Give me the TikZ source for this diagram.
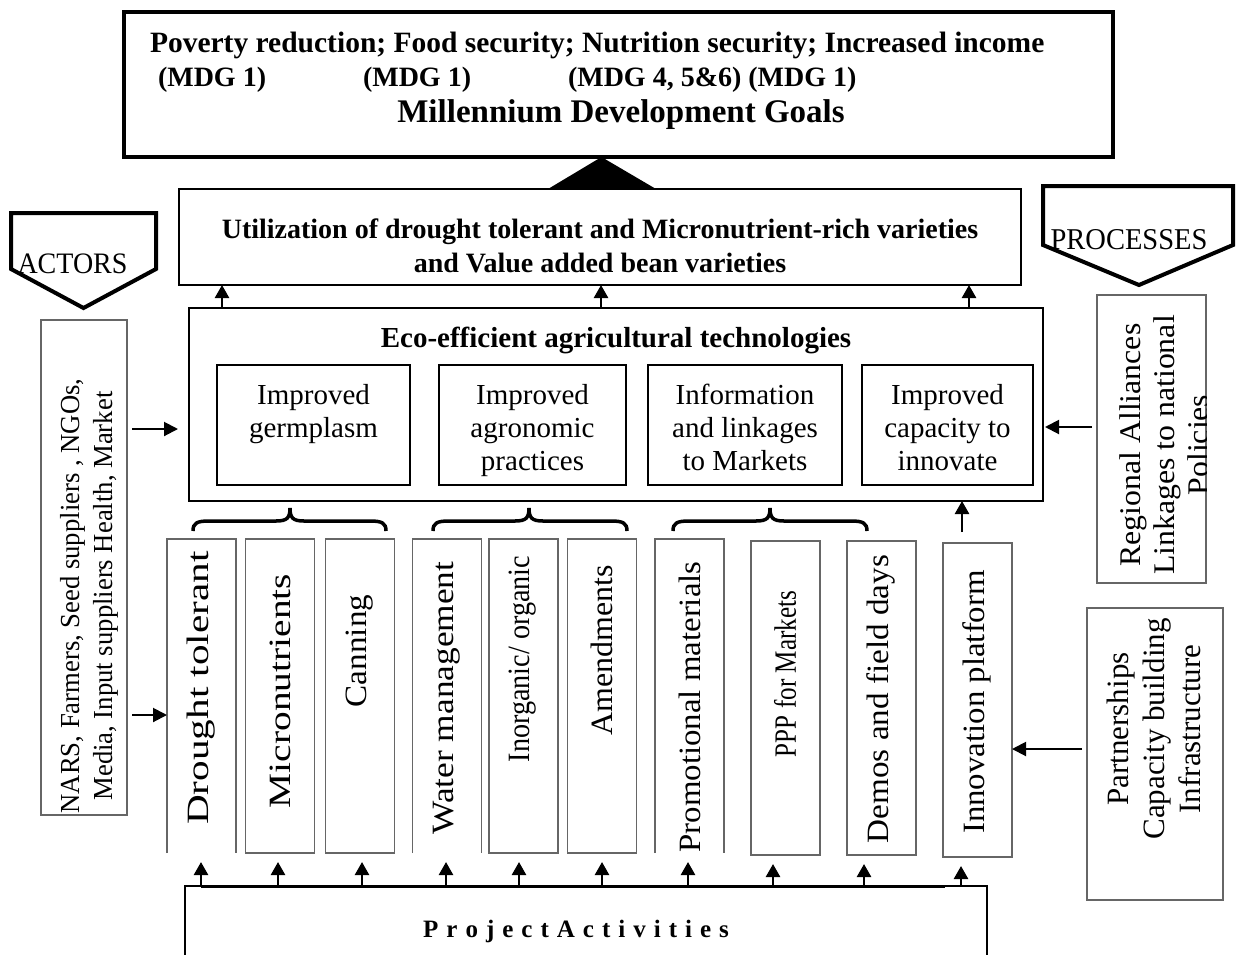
\documentclass[tikz,border=0pt]{standalone}
\usepackage{fontspec}
\setmainfont{Liberation Serif}
\usetikzlibrary{arrows.meta,calc}
\newcommand{\drawbrace}[3]{\draw[bracestyle] (#1,531) .. controls (#1,523) and ({#1+4},521) .. ({#1+16},521) -- ({#2-14},521) .. controls ({#2-3},521) and (#2,518) .. (#2,508) .. controls (#2,518) and ({#2+3},521) .. ({#2+14},521) -- ({#3-16},521) .. controls ({#3-4},521) and (#3,523) .. (#3,531);}
\newcommand{\lsp}{\hspace{8pt}}
\begin{document}
\begin{tikzpicture}[x=1pt,y=-1pt,
  every node/.style={inner sep=0pt,outer sep=0pt},
  box/.style={draw,line width=2pt},
  gbox/.style={draw=black!60,line width=1.6pt},
  gline/.style={draw=black!60,line width=1.6pt},
  arr/.style={line width=2.5pt,-{Triangle[width=14pt,length=13pt]}},
  arrs/.style={line width=2pt,-{Triangle[width=14pt,length=14pt]}},
  bt/.style={font=\fontsize{29}{34}\selectfont\bfseries},
  rt/.style={font=\fontsize{29}{33}\selectfont,align=center},
  vt/.style={font=\fontsize{31}{34}\selectfont,rotate=90,align=center},
  vbox/.style={minimum width=69pt,minimum height=314pt},
  bracestyle/.style={line width=3.5pt},
  pent/.style={line width=4pt,line join=miter},
]
\useasboundingbox (0,0) rectangle (1237,954);

% ---------- goals box ----------
\node[draw,line width=4pt,minimum width=989pt,minimum height=145pt] (goal) at (618.5,84.5) {};
\node[font=\fontsize{29.5}{34}\selectfont\bfseries,anchor=base west] (g1) at (150,52) {Poverty reduction; Food security; Nutrition security; Increased income};
\node[font=\fontsize{28}{34}\selectfont\bfseries,anchor=base west] (g2a) at (158,86) {(MDG 1)};
\node[font=\fontsize{28}{34}\selectfont\bfseries,anchor=base west] (g2b) at (363,86) {(MDG 1)};
\node[font=\fontsize{28}{34}\selectfont\bfseries,anchor=base west] (g2c) at (568,86) {(MDG 4, 5\&6) (MDG 1)};
\node[font=\fontsize{33}{36}\selectfont\bfseries,anchor=base] (g3) at (621,122) {Millennium Development Goals};

% ---------- utilization ----------
\node[box,minimum width=842pt,minimum height=96pt] (util) at (600,237) {};
\node[font=\fontsize{28}{30}\selectfont\bfseries,anchor=base] (u1) at (600,238) {Utilization of drought tolerant and Micronutrient-rich varieties};
\node[font=\fontsize{28}{30}\selectfont\bfseries,anchor=base] (u2) at (600,272) {and Value added bean varieties};
\fill ($(util.north)+(-52,0)$) -- ($(util.north)+(56,0)$) -- ($(goal.south)+(-17,0)$) -- cycle;

% ---------- eco box ----------
\node[box,minimum width=854pt,minimum height=193pt] (eco) at (616,404.5) {};
\node[bt,anchor=base] (ecot) at (616,347) {Eco-efficient agricultural technologies};
\node[box,minimum width=193pt,minimum height=120pt] (t1) at (313.5,425) {};
\node[box,minimum width=187pt,minimum height=120pt] (t2) at (532.5,425) {};
\node[box,minimum width=194pt,minimum height=120pt] (t3) at (745,425) {};
\node[box,minimum width=171pt,minimum height=120pt] (t4) at (947.5,425) {};
\node[rt,anchor=north] (t1x) at ($(t1.north)+(0,19)$) {Improved\\germplasm};
\node[rt,anchor=north] (t2x) at ($(t2.north)+(0,19)$) {Improved\\agronomic\\practices};
\node[rt,anchor=north] (t3x) at ($(t3.north)+(0,19)$) {Information\\and linkages\\to Markets};
\node[rt,anchor=north] (t4x) at ($(t4.north)+(0,19)$) {Improved\\capacity to\\innovate};

\coordinate (xa) at (222,0);
\coordinate (xb) at (601,0);
\coordinate (xc) at (969,0);
\draw[arr] (eco.north -| xa) -- (util.south -| xa);
\draw[arr] (eco.north -| xb) -- (util.south -| xb);
\draw[arr] (eco.north -| xc) -- (util.south -| xc);

% ---------- braces ----------
\drawbrace{193}{290}{386}
\drawbrace{433}{529}{627}
\drawbrace{673}{770}{867}

% ---------- activity boxes ----------
\node[vbox] (dt) at (201.5,696) {};
\node[vbox] (mn) at (280,696) {};
\node[vbox] (cn) at (360,696) {};
\node[vbox] (wm) at (447,696) {};
\node[vbox] (io) at (523.5,696) {};
\node[vbox] (am) at (602,696) {};
\node[vbox] (pm) at (689.5,696) {};
\node[vbox] (pp) at (785.5,698) {};
\node[vbox] (dm) at (881.5,698) {};
\node[vbox] (ip) at (977.5,700) {};
\foreach \n in {dt,wm,pm}
  \draw[gline] (\n.south west) -- (\n.north west) -- (\n.north east) -- (\n.south east);
\foreach \n in {mn,cn,io,am,pp,dm,ip}
  \draw[gline] (\n.south west) rectangle (\n.north east);

\node[vt,xscale=1.33] (dtx) at (201,688) {Drought tolerant};
\node[vt,xscale=1.27] (mnx) at (280,691) {Micronutrients};
\node[vt,xscale=1.07] (cnx) at (360,651) {Canning};
\node[vt,xscale=1.14] (wmx) at (447,698) {Water management};
\node[vt,xscale=0.91] (iox) at (523,659) {Inorganic/ organic};
\node[vt,xscale=1.03] (amx) at (602,650) {Amendments};
\node[vt,xscale=1.06] (pmx) at (690,707) {Promotional materials};
\node[vt,xscale=0.81] (ppx) at (785,674) {PPP for Markets};
\node[vt,xscale=1.07] (dmx) at (881,699) {Demos and field days};
\node[vt,xscale=1.06] (ipx) at (977,702) {Innovation platform};

\coordinate (xi) at (962,0);
\draw[arr] ($(ip.north -| xi)+(0,-11)$) -- (eco.south -| xi);

% ---------- project activities ----------
\node[box,minimum width=802pt,minimum height=120pt,anchor=north west] (proj) at (185,886) {};
\node[font=\fontsize{25}{30}\selectfont\bfseries,anchor=base] (projx) at (576,937)
  {P\lsp r\lsp o\lsp j\lsp e\lsp c\lsp t\lsp A\lsp c\lsp t\lsp i\lsp v\lsp i\lsp t\lsp i\lsp e\lsp s};
\coordinate (busa) at (201,0);
\coordinate (busb) at (945,0);
\draw[line width=3pt] (proj.north -| busa) -- (proj.north -| busb);
\foreach \n/\x in {dt/201,mn/278,cn/362,wm/446,io/519,am/602,pm/688,pp/773,dm/864,ip/961}{
  \coordinate (tmp) at (\x,0);
  \draw[arr] (proj.north -| tmp) -- ($(\n.south -| tmp)+(0,9)$);
}

% ---------- actors ----------
\draw[pent] (11,213) -- (156,213) -- (156,269) -- (83.5,308) -- (11,269) -- cycle;
\node[font=\fontsize{28}{30}\selectfont,anchor=base,yscale=1.06] (actl) at (72.5,273) {ACTORS};
\node[gbox,minimum width=86pt,minimum height=495pt] (act) at (84,567.5) {};
\node[font=\fontsize{27.5}{33}\selectfont,rotate=90,xscale=0.97,align=center] (actx) at (89,596)
  {NARS, Farmers, Seed suppliers , NGOs,\\Media, Input suppliers Health, Market};
\coordinate (yL) at (0,429);
\coordinate (yD) at (0,715);
\draw[arrs] ($(act.east |- yL)+(5,0)$) -- ($(eco.west |- yL)+(-11,0)$);
\draw[arrs] ($(act.east |- yD)+(5,0)$) -- (dt.west |- yD);

% ---------- processes ----------
\draw[pent] (1043,186) -- (1233,186) -- (1233,245) -- (1139,285) -- (1043,245) -- cycle;
\node[font=\fontsize{28.5}{30}\selectfont,anchor=base,yscale=1.06] (procl) at (1129,249) {PROCESSES};
\node[gbox,minimum width=109pt,minimum height=288pt] (reg) at (1151.5,439) {};
\begin{scope}
  \clip (reg.south west) rectangle (reg.north east);
  \node[font=\fontsize{30}{34}\selectfont,rotate=90,xscale=1.06,align=center] (regx) at (1164,445)
    {Regional Alliances\\Linkages to national\\Policies};
\end{scope}
\node[gbox,minimum width=136pt,minimum height=292pt] (part) at (1155,754) {};
\node[font=\fontsize{31}{36}\selectfont,rotate=90,align=center] (partx) at (1154,729)
  {Partnerships\\Capacity building\\Infrastructure};
\coordinate (yR) at (0,427);
\coordinate (yP) at (0,749);
\draw[arrs] ($(reg.west |- yR)+(-5,0)$) -- ($(eco.east |- yR)+(2,0)$);
\draw[arrs] ($(part.west |- yP)+(-5,0)$) -- (ip.east |- yP);
\end{tikzpicture}
\end{document}
